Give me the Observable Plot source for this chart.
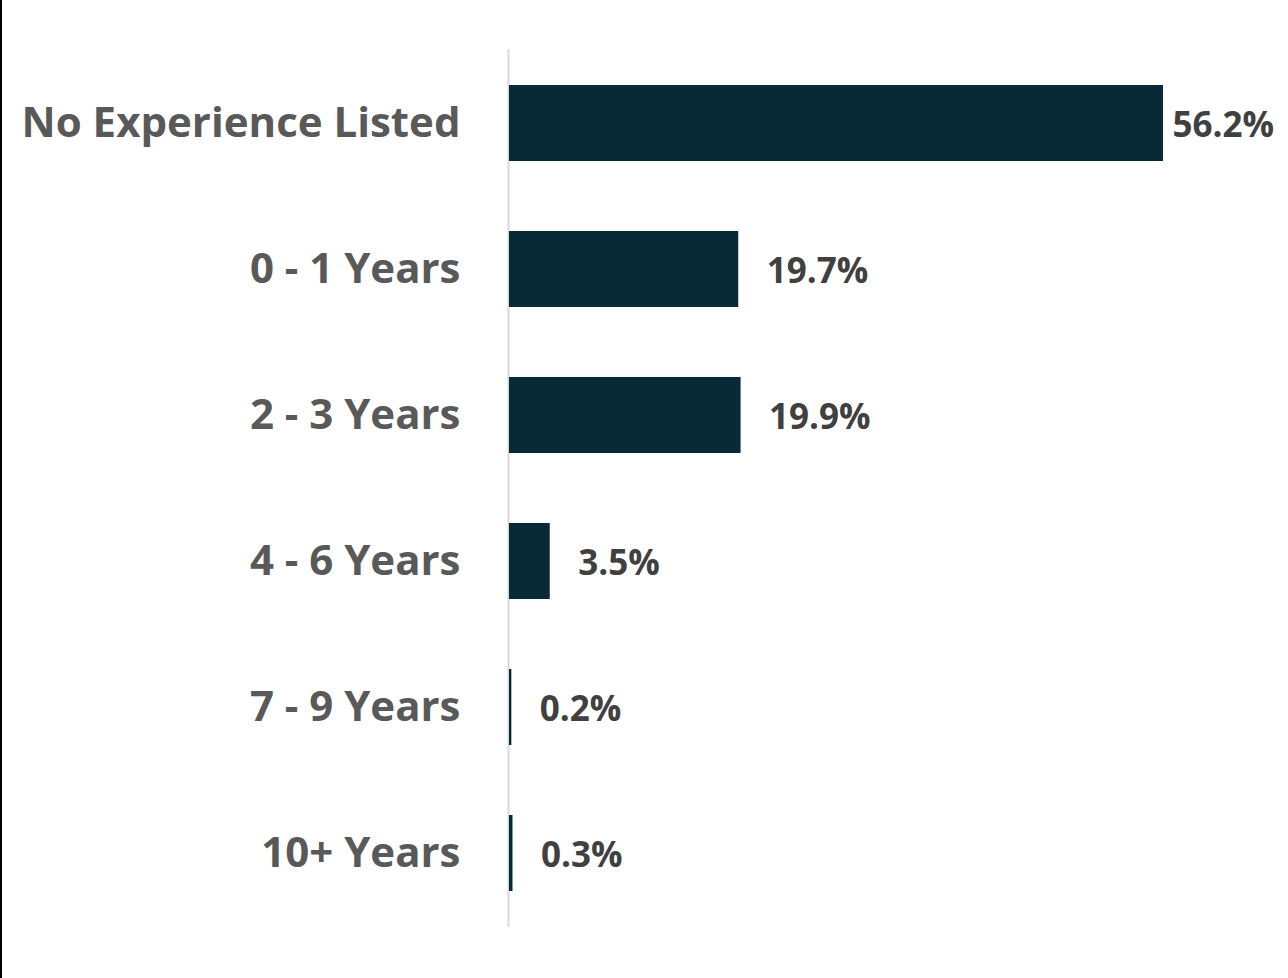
<!DOCTYPE html>
<html>
<head>
<meta charset="utf-8">
<script src="https://cdn.jsdelivr.net/npm/d3@7"></script>
<script src="https://cdn.jsdelivr.net/npm/@observablehq/plot@0.6"></script>
<style>
  html, body { margin: 0; padding: 0; background: #fff; }
  #wrap { position: relative; width: 1288px; height: 978px; }
  #edge { position: absolute; left: 0; top: 0; width: 2px; height: 978px; background: #000; }
  svg { display: block; }
</style>
</head>
<body>
<div id="wrap"><div id="edge"></div></div>
<script>
const categories = ["No Experience Listed", "0 - 1 Years", "2 - 3 Years", "4 - 6 Years", "7 - 9 Years", "10+ Years"];
const values = [56.2, 19.7, 19.9, 3.5, 0.2, 0.3];

const data = categories.map((c, i) => ({category: c, value: values[i]}));
const maxVal = d3.max(values);
const fmt = v => v.toFixed(1) + "%";

const chart = Plot.plot({
  width: 1288,
  height: 978,
  marginLeft: 509,
  marginRight: 125,
  marginTop: 49,
  marginBottom: 51,
  style: {fontFamily: "'Open Sans', sans-serif", background: "transparent"},
  x: {domain: [0, maxVal], axis: null},
  y: {domain: categories, paddingInner: 0.48, paddingOuter: 0.24, label: null},
  marks: [
    Plot.ruleX([0], {stroke: "#d9d9d9", strokeWidth: 2, dx: -1}),
    Plot.barX(data, {x: "value", y: "category", fill: "#082a37"}),
    Plot.text(data.filter(d => d.value === maxVal), {
      x: "value", y: "category", text: d => fmt(d.value),
      textAnchor: "start", dx: 9, dy: 2, fill: "#404040", fontSize: 35, fontWeight: "bold"
    }),
    Plot.text(data.filter(d => d.value !== maxVal), {
      x: "value", y: "category", text: d => fmt(d.value),
      textAnchor: "start", dx: 28, dy: 2, fill: "#404040", fontSize: 35, fontWeight: "bold"
    }),
    Plot.axisY({
      tickSize: 0, tickPadding: 49, label: null,
      fontSize: 42, fontWeight: "bold", fill: "#595959", color: "#595959"
    })
  ]
});
document.getElementById("wrap").appendChild(chart);
</script>
</body>
</html>
